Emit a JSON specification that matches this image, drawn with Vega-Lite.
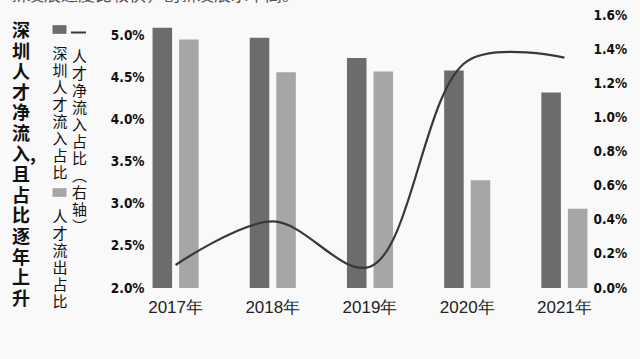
{
  "$schema": "https://vega.github.io/schema/vega-lite/v6.json",
  "width": 486,
  "height": 273,
  "autosize": {"type": "none"},
  "padding": {"left": 127, "top": 15, "right": 27, "bottom": 71},
  "background": "#f9f9f9",
  "title": {
    "text": "新发展速度比较快，创新发展水平高。",
    "orient": "top",
    "anchor": "start",
    "frame": "group",
    "dx": -117,
    "dy": 14,
    "offset": 0,
    "baseline": "bottom",
    "font": "Noto Sans CJK SC",
    "fontSize": 17,
    "fontWeight": "normal",
    "color": "#555555"
  },
  "datasets": {
    "bars": [
      {"year": "2017年", "series": "深圳人才流入占比", "value": 5.09},
      {"year": "2017年", "series": "人才流出占比", "value": 4.95},
      {"year": "2018年", "series": "深圳人才流入占比", "value": 4.97},
      {"year": "2018年", "series": "人才流出占比", "value": 4.56},
      {"year": "2019年", "series": "深圳人才流入占比", "value": 4.73},
      {"year": "2019年", "series": "人才流出占比", "value": 4.57},
      {"year": "2020年", "series": "深圳人才流入占比", "value": 4.58},
      {"year": "2020年", "series": "人才流出占比", "value": 3.28},
      {"year": "2021年", "series": "深圳人才流入占比", "value": 4.32},
      {"year": "2021年", "series": "人才流出占比", "value": 2.94}
    ],
    "net": [
      {"year": "2017年", "s": "人才净流入占比(右轴)", "net": 0.135},
      {"year": "2018年", "s": "人才净流入占比(右轴)", "net": 0.39},
      {"year": "2019年", "s": "人才净流入占比(右轴)", "net": 0.125},
      {"year": "2020年", "s": "人才净流入占比(右轴)", "net": 1.33},
      {"year": "2021年", "s": "人才净流入占比(右轴)", "net": 1.35}
    ]
  },
  "layer": [
    {
      "data": {"name": "bars"},
      "mark": {"type": "bar"},
      "encoding": {
        "x": {
          "field": "year",
          "type": "nominal",
          "title": null,
          "scale": {"paddingInner": 0, "paddingOuter": 0},
          "axis": {
            "labelAngle": 0,
            "domain": false,
            "ticks": false,
            "grid": false,
            "labelFont": "Liberation Sans",
            "labelFontSize": 17,
            "labelColor": "#222222",
            "labelPadding": 11
          }
        },
        "xOffset": {
          "field": "series",
          "type": "nominal",
          "scale": {"domain": ["深圳人才流入占比", "人才流出占比"], "paddingInner": 0.264, "paddingOuter": 0.962}
        },
        "y": {
          "field": "value",
          "type": "quantitative",
          "title": null,
          "scale": {"domain": [2, 5.24], "zero": false, "nice": false},
          "axis": {
            "orient": "left",
            "offset": -19,
            "values": [2, 2.5, 3, 3.5, 4, 4.5, 5],
            "labelExpr": "format(datum.value, '.1f') + '%'",
            "domain": false,
            "ticks": false,
            "grid": false,
            "labelFont": "DejaVu Sans Condensed",
            "labelFontWeight": "bold",
            "labelFontSize": 13.5,
            "labelColor": "#111111",
            "labelPadding": 2
          }
        },
        "y2": {"datum": 2},
        "color": {
          "field": "series",
          "type": "nominal",
          "scale": {"domain": ["深圳人才流入占比", "人才流出占比"], "range": ["#6c6c6f", "#a6a6a8"]},
          "legend": {
            "orient": "none",
            "legendX": -115,
            "legendY": 7,
            "direction": "vertical",
            "title": ["深", "圳", "人", "才", "净", "流", "入,", "且", "占", "比", "逐", "年", "上", "升"],
            "titleOrient": "left",
            "titleAnchor": "middle",
            "titleBaseline": "middle",
            "titleAlign": "left",
            "titleFont": "Noto Sans CJK SC",
            "titleFontSize": 18,
            "titleFontWeight": "bold",
            "titleLineHeight": 20.6,
            "titleColor": "#111111",
            "titlePadding": 16,
            "symbolType": "M-1,-0.62H1V0.62H-1Z",
            "symbolSize": 196,
            "symbolStrokeWidth": 0,
            "labelExpr": "split(' ' + datum.label, '')",
            "labelFont": "Noto Sans CJK SC",
            "labelFontSize": 15,
            "labelLineHeight": 15.7,
            "labelBaseline": "top",
            "labelAlign": "center",
            "labelOffset": -7,
            "labelColor": "#111111",
            "rowPadding": 4
          }
        }
      }
    },
    {
      "data": {"name": "net"},
      "mark": {"type": "line", "interpolate": "catmull-rom", "strokeWidth": 2.2},
      "encoding": {
        "x": {"field": "year", "type": "nominal"},
        "y": {
          "field": "net",
          "type": "quantitative",
          "title": null,
          "scale": {"domain": [0, 1.6], "nice": false},
          "axis": {
            "orient": "right",
            "offset": -22,
            "values": [0, 0.2, 0.4, 0.6, 0.8, 1.0, 1.2, 1.4, 1.6],
            "labelExpr": "format(datum.value, '.1f') + '%'",
            "domain": false,
            "ticks": false,
            "grid": false,
            "labelFont": "DejaVu Sans Condensed",
            "labelFontWeight": "bold",
            "labelFontSize": 13.5,
            "labelColor": "#111111",
            "labelPadding": 2
          }
        },
        "stroke": {
          "field": "s",
          "type": "nominal",
          "scale": {"range": ["#383838"]},
          "legend": {
            "orient": "none",
            "legendX": -57,
            "legendY": 9,
            "title": null,
            "symbolType": "stroke",
            "symbolSize": 225,
            "symbolStrokeWidth": 2,
            "labelExpr": "split(' ' + replace(replace(datum.label, '(', '︵'), ')', '︶'), '')",
            "labelFont": "Noto Sans CJK SC",
            "labelFontSize": 15,
            "labelLineHeight": 14.6,
            "labelBaseline": "top",
            "labelAlign": "center",
            "labelOffset": -7.5,
            "labelColor": "#111111"
          }
        }
      }
    }
  ],
  "resolve": {"scale": {"y": "independent"}},
  "config": {"view": {"stroke": null}}
}
